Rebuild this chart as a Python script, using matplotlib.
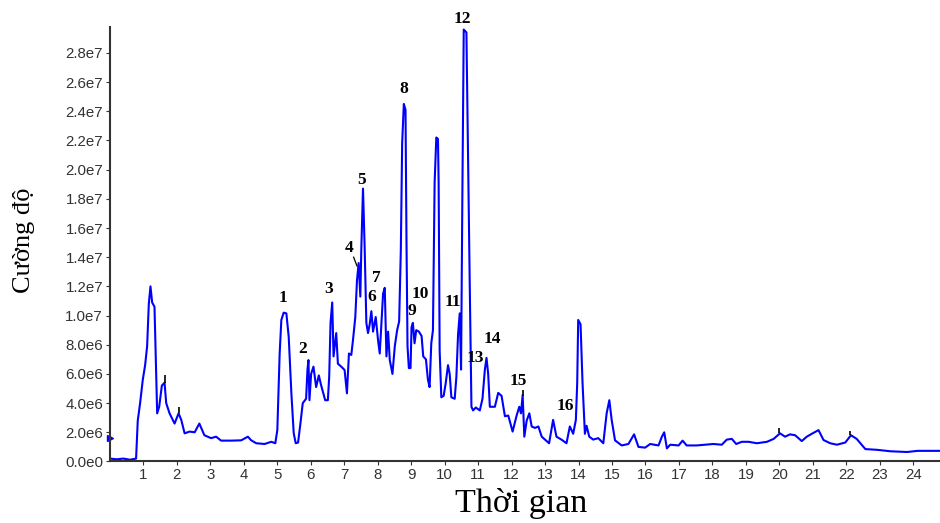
import numpy as np
import matplotlib
matplotlib.use('Agg')
import matplotlib.pyplot as plt
from matplotlib.ticker import FuncFormatter

# thời gian (phút) và cường độ (x1e6) đọc từ sắc ký đồ
time = [0.0, 0.2, 0.4, 0.6, 0.78, 0.83, 0.90, 0.98, 1.05, 1.11, 1.16, 1.21, 1.26, 1.33, 1.36, 1.41,
        1.47, 1.55, 1.63, 1.68, 1.78, 1.93, 2.05, 2.13, 2.23, 2.38, 2.53, 2.67, 2.82, 3.02, 3.17,
        3.32, 3.62, 3.92, 4.12, 4.22, 4.37, 4.62, 4.82, 4.94, 5.00, 5.07, 5.12, 5.19, 5.27, 5.34,
        5.42, 5.49, 5.55, 5.62, 5.69, 5.76, 5.86, 5.90, 5.93, 5.96, 6.01, 6.08, 6.16, 6.24, 6.30,
        6.43, 6.51, 6.55, 6.59, 6.64, 6.68, 6.76, 6.81, 6.91, 7.01, 7.08, 7.14, 7.21, 7.26, 7.33,
        7.38, 7.43, 7.48, 7.51, 7.56, 7.61, 7.66, 7.71, 7.76, 7.81, 7.86, 7.94, 8.01, 8.06, 8.11,
        8.16, 8.21, 8.26, 8.31, 8.36, 8.44, 8.51, 8.58, 8.64, 8.69, 8.73, 8.78, 8.83, 8.86, 8.89,
        8.93, 8.98, 9.01, 9.05, 9.10, 9.15, 9.23, 9.31, 9.36, 9.44, 9.50, 9.55, 9.60, 9.65, 9.70,
        9.75, 9.80, 9.82, 9.85, 9.90, 9.97, 10.03, 10.10, 10.15, 10.20, 10.30, 10.35, 10.40, 10.45,
        10.49, 10.53, 10.57, 10.65, 10.68, 10.72, 10.75, 10.80, 10.85, 10.93, 11.05, 11.13, 11.20,
        11.25, 11.30, 11.35, 11.50, 11.60, 11.70, 11.80, 11.90, 12.03, 12.15, 12.23, 12.28, 12.33,
        12.38, 12.45, 12.53, 12.60, 12.70, 12.80, 12.90, 13.00, 13.12, 13.24, 13.34, 13.49, 13.64,
        13.74, 13.84, 13.92, 13.96, 13.99, 14.06, 14.12, 14.19, 14.24, 14.32, 14.44, 14.59, 14.74,
        14.84, 14.92, 14.99, 15.09, 15.29, 15.49, 15.66, 15.79, 15.99, 16.14, 16.39, 16.49, 16.56,
        16.64, 16.74, 16.99, 17.11, 17.23, 17.53, 18.03, 18.28, 18.43, 18.58, 18.71, 18.88, 19.08,
        19.33, 19.63, 19.83, 20.02, 20.17, 20.32, 20.47, 20.67, 20.82, 20.97, 21.17, 21.32, 21.52,
        21.72, 21.97, 22.14, 22.31, 22.46, 22.57, 22.92, 23.32, 23.82, 24.13, 24.8]
intensity = [0.2, 0.15, 0.2, 0.12, 0.2, 2.8, 4.0, 5.6, 6.6, 7.9, 10.8, 12.0, 10.9, 10.6, 7.8, 3.3,
             3.75, 5.2, 5.4, 4.0, 3.3, 2.6, 3.3, 2.85, 1.93, 2.05, 2.0, 2.6, 1.8, 1.6, 1.7,
             1.43, 1.43, 1.45, 1.7, 1.45, 1.25, 1.2, 1.35, 1.25, 2.15, 7.4, 9.7, 10.2, 10.15, 8.55,
             4.67, 1.93, 1.25, 1.3, 2.6, 4.0, 4.3, 6.27, 6.95, 4.2, 6.0, 6.5, 5.1, 5.9, 5.3,
             4.2, 4.2, 5.8, 9.5, 10.9, 7.2, 8.8, 6.7, 6.5, 6.27, 4.67, 7.4, 7.3, 8.3, 9.9,
             12.4, 13.6, 11.3, 14.6, 18.7, 14.6, 9.5, 8.8, 9.4, 10.3, 8.9, 9.9, 8.3, 7.4, 9.4,
             11.5, 11.9, 7.2, 8.9, 6.95, 6.0, 7.9, 9.0, 9.6, 14.5, 21.8, 24.5, 24.1, 14.9, 7.9,
             6.4, 6.4, 9.2, 9.5, 8.1, 9.0, 8.9, 8.6, 7.2, 7.0, 5.6, 5.1, 8.1, 9.0, 19.1,
             22.2, 22.1, 19.1, 7.6, 4.4, 4.5, 5.35, 6.6, 6.0, 4.4, 4.3, 5.8, 8.7, 10.15,
             6.3, 18.6, 29.6, 29.4, 24.1, 16.8, 12.0, 3.75, 3.5, 3.7, 3.5, 4.3, 6.27,
             7.1, 6.0, 3.75, 3.75, 4.7, 4.5, 3.1, 3.15, 2.05, 3.15, 3.75, 3.3, 4.55,
             1.7, 2.8, 3.3, 2.4, 2.3, 2.4, 1.7, 1.5, 1.25, 2.85, 1.7, 1.5, 1.25,
             2.4, 1.9, 2.85, 5.35, 9.7, 9.4, 5.35, 1.9, 2.45, 1.7, 1.5, 1.6, 1.25,
             3.3, 4.2, 2.85, 1.45, 1.1, 1.2, 1.86, 1.0, 0.95, 1.2, 1.1, 1.7, 2.0,
             0.9, 1.15, 1.1, 1.43, 1.1, 1.1, 1.2, 1.15, 1.5, 1.55, 1.2, 1.35, 1.35,
             1.25, 1.35, 1.55, 1.93, 1.7, 1.86, 1.8, 1.4, 1.7, 1.9, 2.15, 1.47, 1.25,
             1.15, 1.3, 1.8, 1.55, 1.15, 0.85, 0.8, 0.7, 0.65, 0.73, 0.73]

# nhãn pic: số, thời gian, cường độ (x1e6) của vị trí chữ
peak_labels = ['1', '2', '3', '4', '5', '6', '7', '8', '9', '10', '11', '12', '13', '14', '15', '16']
peak_x = [5.16, 5.76, 6.54, 7.16, 7.52, 7.82, 7.97, 8.78, 9.02, 9.26, 10.24, 10.54, 10.93, 11.41, 12.19, 13.62]
peak_y = [11.2, 7.7, 11.8, 14.6, 19.3, 11.3, 12.6, 25.5, 10.3, 11.5, 10.9, 30.3, 7.1, 8.4, 5.5, 3.8]

# vạch đánh dấu nhỏ màu đen trên một số pic
mark_x = [1.63, 2.07, 12.33, 20.0, 22.1]
mark_lo = [5.4, 3.3, 4.5, 1.95, 1.8]
mark_hi = [5.9, 3.7, 4.9, 2.3, 2.1]

fig = plt.figure(figsize=(9.4, 5.23), dpi=100)
ax = fig.add_axes([0.117, 0.1176, 0.883, 0.8304])

ax.plot(time, np.array(intensity) * 1e6, color='#0000ff', linewidth=1.5)
ax.vlines(mark_x, np.array(mark_lo) * 1e6, np.array(mark_hi) * 1e6, color='black', linewidth=1.2)
ax.plot([0.0], [1.6e6], marker='>', color='#0000ff', markersize=4, clip_on=False)

for lab, x, y in zip(peak_labels, peak_x, peak_y):
    ax.text(x, y * 1e6, lab, ha='center', va='center', fontsize=12.5, fontweight='bold',
            family='Liberation Serif', color='black', clip_on=False)
ax.plot([7.28, 7.38], [14.0e6, 13.4e6], color='black', linewidth=0.9)

ax.set_xlim(0, 24.8)
ax.set_ylim(0, 2.976e7)
ax.set_xticks(range(1, 25))
ax.set_yticks(np.arange(0, 2.81e7, 2e6))


def fmt(v, pos):
    if v == 0:
        return '0.0e0'
    e = int(np.floor(np.log10(abs(v)) + 1e-9))
    return f'{v / 10 ** e:.1f}e{e}'


ax.yaxis.set_major_formatter(FuncFormatter(fmt))
for s in ['top', 'right']:
    ax.spines[s].set_visible(False)
for s in ['left', 'bottom']:
    ax.spines[s].set_color('#333333')
    ax.spines[s].set_linewidth(1.5)
ax.tick_params(axis='both', length=3, width=0.8, colors='#333333', labelsize=10.8, pad=2)
for t in ax.get_xticklabels() + ax.get_yticklabels():
    t.set_family('Liberation Sans')
    t.set_color('#333333')

fig.text(0.026, 0.54, 'Cường độ', rotation=90, ha='center', va='center',
         fontsize=19, family='Liberation Serif')
fig.text(0.554, 0.038, 'Thời gian', ha='center', va='center',
         fontsize=24.5, family='Liberation Serif')

fig.savefig('out.png', dpi=100)
